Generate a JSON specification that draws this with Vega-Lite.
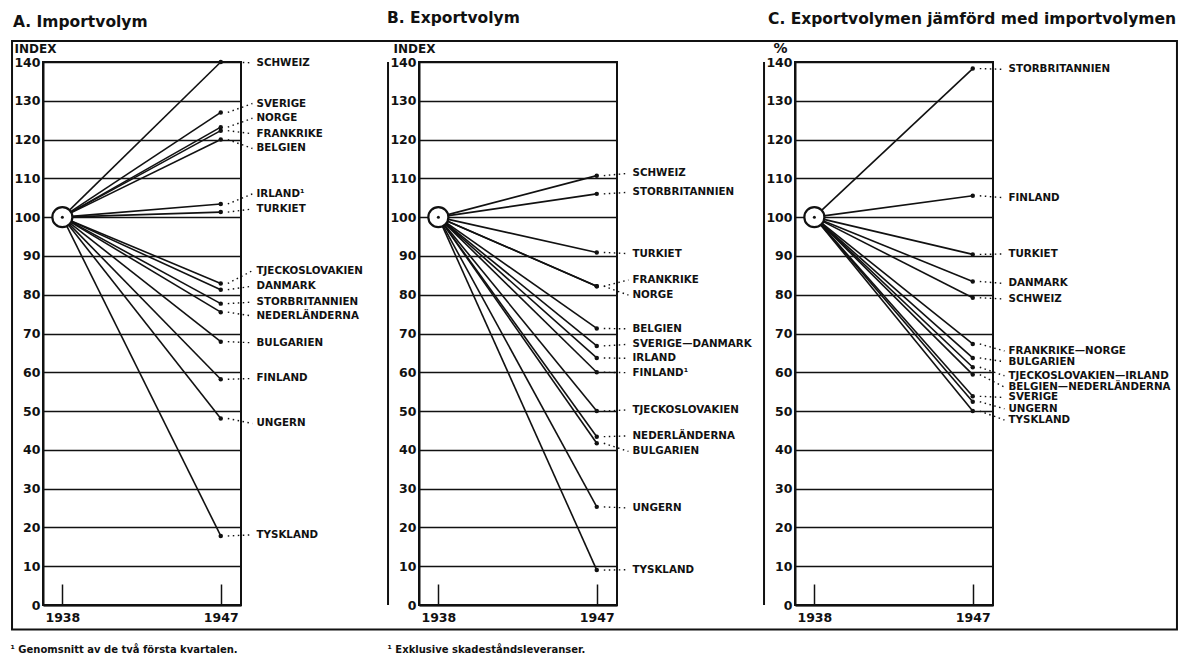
{
  "$schema": "https://vega.github.io/schema/vega-lite/v6.json",
  "background": "white",
  "padding": {"left": 9, "top": 10, "right": 0, "bottom": 0},
  "bounds": "flush",
  "spacing": 178,
  "config": {
    "font": "DejaVu Sans",
    "view": {"stroke": "#111", "strokeWidth": 2},
    "axis": {"labelFontSize": 12.5, "labelFontWeight": "bold", "labelColor": "#111", "titleColor": "#111", "domainColor": "#111", "domainWidth": 2, "tickColor": "#111", "labelFlush": false, "labelOverlap": false},
    "axisY": {"tickCount": 20, "titleAngle": 0, "titleY": -9.5, "titleAlign": "left", "titleBaseline": "alphabetic", "titleFontSize": 12, "titleFontWeight": "bold", "grid": true, "gridColor": "#111", "gridWidth": 1.5, "gridOpacity": 1, "ticks": false, "labelPadding": 3},
    "axisX": {"tickCount": 20, "grid": false, "tickSize": -21, "tickWidth": 1.5, "labelPadding": 27, "titleAlign": "left", "titleBaseline": "middle", "titleAngle": 0, "titleY": 44.5, "titleFontSize": 10, "titleFontWeight": "bold"},
    "title": {"fontSize": 15.5, "fontWeight": "bold", "color": "#111", "anchor": "start", "frame": "group", "baseline": "alphabetic"},
    "text": {"font": "DejaVu Sans", "fontWeight": "bold", "fontSize": 10.3, "color": "#111", "align": "left", "baseline": "middle"},
    "rule": {"color": "#111"}
  },
  "datasets": {
    "A": [
      {"land": "SCHWEIZ", "y1938": 100, "y1947": 140, "etikett": 139.8},
      {"land": "SVERIGE", "y1938": 100, "y1947": 127, "etikett": 129.3},
      {"land": "NORGE", "y1938": 100, "y1947": 123.2, "etikett": 125.5},
      {"land": "FRANKRIKE", "y1938": 100, "y1947": 122.3, "etikett": 121.5},
      {"land": "BELGIEN", "y1938": 100, "y1947": 120, "etikett": 117.7},
      {"land": "IRLAND¹", "y1938": 100, "y1947": 103.4, "etikett": 106},
      {"land": "TURKIET", "y1938": 100, "y1947": 101.3, "etikett": 102.1},
      {"land": "TJECKOSLOVAKIEN", "y1938": 100, "y1947": 82.9, "etikett": 86.2},
      {"land": "DANMARK", "y1938": 100, "y1947": 81.3, "etikett": 82.2},
      {"land": "STORBRITANNIEN", "y1938": 100, "y1947": 77.7, "etikett": 78.1},
      {"land": "NEDERLÄNDERNA", "y1938": 100, "y1947": 75.5, "etikett": 74.5},
      {"land": "BULGARIEN", "y1938": 100, "y1947": 67.9, "etikett": 67.6},
      {"land": "FINLAND", "y1938": 100, "y1947": 58.2, "etikett": 58.4},
      {"land": "UNGERN", "y1938": 100, "y1947": 48.1, "etikett": 46.8},
      {"land": "TYSKLAND", "y1938": 100, "y1947": 17.8, "etikett": 18.1}
    ],
    "B": [
      {"land": "SCHWEIZ", "y1938": 100, "y1947": 110.7, "etikett": 111.3},
      {"land": "STORBRITANNIEN", "y1938": 100, "y1947": 106, "etikett": 106.4},
      {"land": "TURKIET", "y1938": 100, "y1947": 90.9, "etikett": 90.6},
      {"land": "FRANKRIKE", "y1938": 100, "y1947": 82.2, "etikett": 83.8},
      {"land": "NORGE", "y1938": 100, "y1947": 82.2, "etikett": 79.9},
      {"land": "BELGIEN", "y1938": 100, "y1947": 71.3, "etikett": 71.2},
      {"land": "SVERIGE—DANMARK", "y1938": 100, "y1947": 66.8, "etikett": 67.2},
      {"land": "IRLAND", "y1938": 100, "y1947": 63.7, "etikett": 63.6},
      {"land": "FINLAND¹", "y1938": 100, "y1947": 60, "etikett": 59.9},
      {"land": "TJECKOSLOVAKIEN", "y1938": 100, "y1947": 50, "etikett": 50.3},
      {"land": "NEDERLÄNDERNA", "y1938": 100, "y1947": 43.4, "etikett": 43.6},
      {"land": "BULGARIEN", "y1938": 100, "y1947": 41.7, "etikett": 39.6},
      {"land": "UNGERN", "y1938": 100, "y1947": 25.3, "etikett": 25},
      {"land": "TYSKLAND", "y1938": 100, "y1947": 9, "etikett": 9.1}
    ],
    "C": [
      {"land": "STORBRITANNIEN", "y1938": 100, "y1947": 138.3, "etikett": 138.1},
      {"land": "FINLAND", "y1938": 100, "y1947": 105.5, "etikett": 105},
      {"land": "TURKIET", "y1938": 100, "y1947": 90.4, "etikett": 90.5},
      {"land": "DANMARK", "y1938": 100, "y1947": 83.4, "etikett": 82.9},
      {"land": "SCHWEIZ", "y1938": 100, "y1947": 79.2, "etikett": 78.9},
      {"land": "FRANKRIKE—NORGE", "y1938": 100, "y1947": 67.3, "etikett": 65.5},
      {"land": "BULGARIEN", "y1938": 100, "y1947": 63.7, "etikett": 62.7},
      {"land": "TJECKOSLOVAKIEN—IRLAND", "y1938": 100, "y1947": 61.3, "etikett": 59.1},
      {"land": "BELGIEN—NEDERLÄNDERNA", "y1938": 100, "y1947": 59.4, "etikett": 56.2},
      {"land": "SVERIGE", "y1938": 100, "y1947": 53.8, "etikett": 53.5},
      {"land": "UNGERN", "y1938": 100, "y1947": 52.4, "etikett": 50.6},
      {"land": "TYSKLAND", "y1938": 100, "y1947": 50, "etikett": 47.7}
    ],
    "bas": [{"ar": 1938, "index": 100}]
  },
  "hconcat": [
    {
      "width": 198, "height": 543,
      "title": {"text": "A. Importvolym", "dx": -30, "offset": 10},
      "layer": [
        {"data": {"name": "A"}, "mark": {"type": "rule", "strokeWidth": 1.6},
         "encoding": {"x": {"datum": 1938, "scale": {"domain": [1936.9, 1948.15], "nice": false, "zero": false}, "axis": {"values": [1938, 1947], "format": "d", "title": "¹ Genomsnitt av de två första kvartalen.", "titleX": -33}}, "x2": {"datum": 1947},
                      "y": {"field": "y1938", "type": "quantitative", "scale": {"domain": [0, 140], "nice": false, "zero": false}, "axis": {"values": [0, 10, 20, 30, 40, 50, 60, 70, 80, 90, 100, 110, 120, 130, 140], "title": "INDEX", "titleX": -29}}, "y2": {"field": "y1947"}}},
        {"data": {"values": [{}]}, "mark": {"type": "rect", "fill": "transparent", "stroke": "#111", "strokeWidth": 2},
         "encoding": {"x": {"datum": 1935.14}, "x2": {"datum": 2001.33},
                      "y": {"datum": 145.41}, "y2": {"datum": -6.32}}},
        {"data": {"name": "A"}, "mark": {"type": "rule", "strokeWidth": 1.4, "strokeDash": [1.5, 3.5]},
         "encoding": {"x": {"datum": 1947.4}, "x2": {"datum": 1948.8},
                      "y": {"field": "y1947", "type": "quantitative"}, "y2": {"field": "etikett"}}},
        {"data": {"name": "A"}, "mark": {"type": "circle", "size": 20, "color": "#111", "opacity": 1},
         "encoding": {"x": {"datum": 1947}, "y": {"field": "y1947", "type": "quantitative"}}},
        {"data": {"name": "bas"}, "mark": {"type": "circle", "size": 400, "fill": "white", "stroke": "#111", "strokeWidth": 2.2, "opacity": 1},
         "encoding": {"x": {"field": "ar", "type": "quantitative"}, "y": {"field": "index", "type": "quantitative"}}},
        {"data": {"name": "bas"}, "mark": {"type": "circle", "size": 9, "color": "#111", "opacity": 1},
         "encoding": {"x": {"field": "ar", "type": "quantitative"}, "y": {"field": "index", "type": "quantitative"}}},
        {"data": {"name": "A"}, "mark": {"type": "text"},
         "encoding": {"x": {"datum": 1949.03}, "y": {"field": "etikett", "type": "quantitative"}, "text": {"field": "land"}}}
      ]
    },
    {
      "width": 198, "height": 543,
      "title": {"text": "B. Exportvolym", "dx": -32, "offset": 16},
      "layer": [
        {"data": {"name": "B"}, "mark": {"type": "rule", "strokeWidth": 1.6},
         "encoding": {"x": {"datum": 1938, "scale": {"domain": [1936.9, 1948.15], "nice": false, "zero": false}, "axis": {"values": [1938, 1947], "format": "d", "title": "¹ Exklusive skadeståndsleveranser.", "titleX": -32}}, "x2": {"datum": 1947},
                      "y": {"field": "y1938", "type": "quantitative", "scale": {"domain": [0, 140], "nice": false, "zero": false}, "axis": {"values": [0, 10, 20, 30, 40, 50, 60, 70, 80, 90, 100, 110, 120, 130, 140], "title": "INDEX", "titleX": -26}}, "y2": {"field": "y1947"}}},
        {"data": {"values": [{}]}, "mark": {"type": "rule", "strokeWidth": 2},
         "encoding": {"x": {"datum": 1935.14}, "y": {"datum": 0}, "y2": {"datum": 140}}},
        {"data": {"name": "B"}, "mark": {"type": "rule", "strokeWidth": 1.4, "strokeDash": [1.5, 3.5]},
         "encoding": {"x": {"datum": 1947.4}, "x2": {"datum": 1948.8},
                      "y": {"field": "y1947", "type": "quantitative"}, "y2": {"field": "etikett"}}},
        {"data": {"name": "B"}, "mark": {"type": "circle", "size": 20, "color": "#111", "opacity": 1},
         "encoding": {"x": {"datum": 1947}, "y": {"field": "y1947", "type": "quantitative"}}},
        {"data": {"name": "bas"}, "mark": {"type": "circle", "size": 400, "fill": "white", "stroke": "#111", "strokeWidth": 2.2, "opacity": 1},
         "encoding": {"x": {"field": "ar", "type": "quantitative"}, "y": {"field": "index", "type": "quantitative"}}},
        {"data": {"name": "bas"}, "mark": {"type": "circle", "size": 9, "color": "#111", "opacity": 1},
         "encoding": {"x": {"field": "ar", "type": "quantitative"}, "y": {"field": "index", "type": "quantitative"}}},
        {"data": {"name": "B"}, "mark": {"type": "text"},
         "encoding": {"x": {"datum": 1949.03}, "y": {"field": "etikett", "type": "quantitative"}, "text": {"field": "land"}}}
      ]
    },
    {
      "width": 198, "height": 543,
      "title": {"text": "C. Exportvolymen jämförd med importvolymen", "dx": -27, "offset": 14.5},
      "layer": [
        {"data": {"name": "C"}, "mark": {"type": "rule", "strokeWidth": 1.6},
         "encoding": {"x": {"datum": 1938, "scale": {"domain": [1936.9, 1948.15], "nice": false, "zero": false}, "axis": {"values": [1938, 1947], "format": "d", "title": ""}}, "x2": {"datum": 1947},
                      "y": {"field": "y1938", "type": "quantitative", "scale": {"domain": [0, 140], "nice": false, "zero": false}, "axis": {"values": [0, 10, 20, 30, 40, 50, 60, 70, 80, 90, 100, 110, 120, 130, 140], "title": "%", "titleX": -22, "titleFontSize": 14}}, "y2": {"field": "y1947"}}},
        {"data": {"values": [{}]}, "mark": {"type": "rule", "strokeWidth": 2},
         "encoding": {"x": {"datum": 1935.14}, "y": {"datum": 0}, "y2": {"datum": 140}}},
        {"data": {"name": "C"}, "mark": {"type": "rule", "strokeWidth": 1.4, "strokeDash": [1.5, 3.5]},
         "encoding": {"x": {"datum": 1947.4}, "x2": {"datum": 1948.8},
                      "y": {"field": "y1947", "type": "quantitative"}, "y2": {"field": "etikett"}}},
        {"data": {"name": "C"}, "mark": {"type": "circle", "size": 20, "color": "#111", "opacity": 1},
         "encoding": {"x": {"datum": 1947}, "y": {"field": "y1947", "type": "quantitative"}}},
        {"data": {"name": "bas"}, "mark": {"type": "circle", "size": 400, "fill": "white", "stroke": "#111", "strokeWidth": 2.2, "opacity": 1},
         "encoding": {"x": {"field": "ar", "type": "quantitative"}, "y": {"field": "index", "type": "quantitative"}}},
        {"data": {"name": "bas"}, "mark": {"type": "circle", "size": 9, "color": "#111", "opacity": 1},
         "encoding": {"x": {"field": "ar", "type": "quantitative"}, "y": {"field": "index", "type": "quantitative"}}},
        {"data": {"name": "C"}, "mark": {"type": "text"},
         "encoding": {"x": {"datum": 1949.03}, "y": {"field": "etikett", "type": "quantitative"}, "text": {"field": "land"}}}
      ]
    }
  ]
}
